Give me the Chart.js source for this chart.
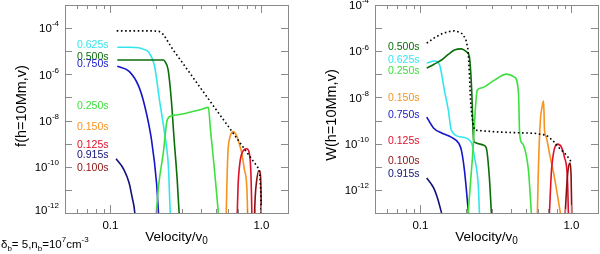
<!DOCTYPE html>
<html>
<head>
<meta charset="utf-8">
<script src="https://cdn.jsdelivr.net/npm/chart.js@4.4.1/dist/chart.umd.min.js"></script>
<style>
  html, body { margin: 0; padding: 0; background: #fff; }
  #wrap { position: relative; width: 600px; height: 254px; }
  #wrap .panel { position: absolute; top: 0; width: 300px; height: 254px; }
</style>
</head>
<body>
<div id="wrap">
  <div class="panel" style="left:0"><canvas id="leftChart" width="300" height="254"></canvas></div>
  <div class="panel" style="left:300px"><canvas id="rightChart" width="300" height="254"></canvas></div>
</div>
<script>
// axis ranges / ticks
const xMin = 0.05, xMax = 1.5;
const xMajorTicks = [0.1, 1.0];
const xTickLabels = ['0.1', '1.0'];
const xMinorTicks = [0.06, 0.07, 0.08, 0.09, 0.2, 0.3, 0.4, 0.5, 0.6, 0.7, 0.8, 0.9];
const yLabelExps = [-4, -6, -8, -10, -12];

// ---- left panel: f(h=10Mm,v), y values given as log10 ----
const vDotL  = [0.11, 0.15, 0.19, 0.21, 0.225, 0.24, 0.26, 0.3, 0.4, 0.5, 0.6, 0.7, 0.8, 0.9, 0.97, 0.99, 1.0];
const fDotL  = [-4.12, -4.12, -4.12, -4.14, -4.28, -4.58, -4.94, -5.5, -6.64, -7.52, -8.23, -8.84, -9.37, -9.83, -10.13, -11.0, -12.5];
const v625L  = [0.111, 0.135, 0.154, 0.168, 0.179, 0.196, 0.211, 0.228, 0.242, 0.249, 0.255];
const f625L  = [-4.83, -4.83, -4.85, -4.93, -5.04, -5.65, -7.09, -8.52, -10.0, -12.0, -13];
const v500L  = [0.111, 0.15, 0.2, 0.224, 0.23, 0.241, 0.253, 0.264, 0.277, 0.285, 0.29];
const f500L  = [-5.38, -5.38, -5.38, -5.38, -5.45, -5.8, -7.1, -8.8, -10.6, -12.0, -13];
const v750L  = [0.111, 0.133, 0.154, 0.169, 0.187, 0.202, 0.208, 0.212];
const f750L  = [-5.65, -5.87, -6.52, -7.39, -8.83, -10.7, -12.0, -13];
const v250L  = [0.196, 0.208, 0.224, 0.238, 0.253, 0.3, 0.35, 0.4, 0.445, 0.46, 0.48, 0.5, 0.518, 0.53];
const f250L  = [-13, -10.87, -9.39, -7.96, -7.8, -7.72, -7.61, -7.52, -7.43, -8.4, -9.6, -10.85, -12.0, -13];
const v150L  = [0.58, 0.585, 0.59, 0.6, 0.62, 0.65, 0.69, 0.72, 0.74, 0.77, 0.8, 0.81, 0.815];
const f150L  = [-13, -12.0, -10.9, -9.4, -8.7, -8.48, -8.7, -9.1, -9.39, -10.1, -10.87, -12.0, -13];
const v125L  = [0.685, 0.70, 0.72, 0.75, 0.80, 0.83, 0.85, 0.86, 0.87];
const f125L  = [-13, -10.87, -9.83, -9.35, -9.22, -9.39, -10.13, -11.3, -13];
const v100L  = [0.89, 0.91, 0.93, 0.96, 0.98, 0.995, 1.0];
const f100L  = [-13, -11.3, -10.6, -10.17, -10.25, -11.3, -13];
const v915L  = [0.109, 0.123, 0.133, 0.139, 0.145, 0.148];
const f915L  = [-9.65, -10.13, -10.7, -11.3, -12.0, -13];

// ---- right panel: W(h=10Mm,v), log10 ----
const vDotR  = [0.11, 0.125, 0.14, 0.155, 0.168, 0.18, 0.19, 0.2, 0.207, 0.211, 0.215, 0.22, 0.228, 0.26, 0.34, 0.45, 0.57, 0.68, 0.75, 0.82, 0.93, 1.0];
const wDotR  = [-5.65, -5.4, -5.23, -5.15, -5.12, -5.17, -5.25, -5.5, -5.95, -7.0, -8.2, -8.9, -9.41, -9.45, -9.5, -9.53, -9.55, -9.63, -9.85, -10.15, -10.5, -10.8];
const v500R  = [0.11, 0.124, 0.138, 0.152, 0.168, 0.187, 0.202, 0.211, 0.218, 0.225, 0.228, 0.261, 0.273, 0.286, 0.295];
const w500R  = [-6.73, -6.55, -6.38, -6.15, -5.95, -5.90, -6.03, -6.25, -7.55, -9.84, -9.93, -10.06, -10.19, -11.45, -13];
const v625R  = [0.11, 0.124, 0.134, 0.144, 0.153, 0.16, 0.187, 0.218, 0.228, 0.242, 0.246, 0.25];
const w625R  = [-6.51, -6.42, -6.60, -7.68, -8.55, -9.41, -9.71, -9.97, -10.58, -11.88, -13, -13.5];
const v250R  = [0.207, 0.221, 0.238, 0.253, 0.309, 0.371, 0.42, 0.446, 0.453, 0.46, 0.481, 0.519, 0.543];
const w250R  = [-13, -10.6, -7.68, -7.59, -7.25, -6.99, -7.12, -7.81, -9.41, -9.84, -10.06, -11.14, -13];
const v150R  = [0.595, 0.604, 0.623, 0.64, 0.653, 0.658, 0.663, 0.68, 0.715, 0.771, 0.845];
const w150R  = [-13, -11.14, -8.98, -8.4, -8.16, -8.6, -9.4, -9.7, -10.41, -11.45, -13];
const v750R  = [0.11, 0.122, 0.138, 0.16, 0.18, 0.187, 0.196, 0.208];
const w750R  = [-8.85, -9.32, -9.54, -9.72, -10.0, -10.3, -11.2, -13];
const v125R  = [0.715, 0.738, 0.761, 0.78, 0.807, 0.859, 0.899, 0.942, 0.955];
const w125R  = [-13, -11.14, -10.41, -10.12, -10.02, -10.15, -10.58, -11.58, -13];
const v100R  = [0.91, 0.94, 0.96, 0.98, 0.995, 1.005];
const w100R  = [-13, -11.45, -10.95, -10.84, -11.4, -13];
const v915R  = [0.11, 0.118, 0.124, 0.131, 0.138];
const w915R  = [-11.49, -11.75, -12.0, -12.45, -13];

const col = {
  t625: '#33e6ee', t500: '#0a6e0a', t750: '#1616c8', t250: '#3ee03e',
  t150: '#f7931e', t125: '#e0102a', t915: '#12127a', t100: '#8b1010'
};

function pts(v, lg) {
  return v.map((vv, i) => ({ x: vv, y: Math.pow(10, lg[i]) }));
}
function line(v, lg, color) {
  return { data: pts(v, lg), borderColor: color, borderWidth: 1.6, cubicInterpolationMode: 'monotone' };
}
function dotted(v, lg) {
  return { data: pts(v, lg), borderColor: '#000', borderWidth: 1.6, borderDash: [1.6, 2.6], tension: 0 };
}

// draws text pieces with sub/superscripts, returns width
function rich(ctx, parts, x, y, size, align, draw) {
  let w = 0;
  parts.forEach(p => {
    ctx.font = (p[1] === 'n' ? size : Math.round(size * 0.72)) + 'px "Liberation Sans", Arial, sans-serif';
    w += ctx.measureText(p[0]).width;
  });
  if (draw === false) return w;
  let cx = align === 'right' ? x - w : (align === 'center' ? x - w / 2 : x);
  ctx.textAlign = 'left';
  ctx.textBaseline = 'middle';
  parts.forEach(p => {
    const small = p[1] !== 'n';
    ctx.font = (small ? Math.round(size * 0.72) : size) + 'px "Liberation Sans", Arial, sans-serif';
    let dy = 0;
    if (p[1] === 'sup') dy = -size * 0.42;
    if (p[1] === 'sub') dy = size * 0.3;
    ctx.fillText(p[0], cx, y + dy);
    cx += ctx.measureText(p[0]).width;
  });
  return w;
}

const framePlugin = {
  id: 'frame',
  afterDatasetsDraw(chart, args, opts) {
    const { ctx, chartArea: a } = chart;
    const xs = chart.scales.x, ys = chart.scales.y;
    ctx.save();
    ctx.strokeStyle = '#8a8a8a';
    ctx.lineWidth = 1;
    ctx.strokeRect(Math.round(a.left) + 0.5, Math.round(a.top) + 0.5, Math.round(a.right - a.left), Math.round(a.bottom - a.top));
    ctx.beginPath();
    xMinorTicks.forEach(v => {
      const px = Math.round(xs.getPixelForValue(v)) + 0.5;
      ctx.moveTo(px, a.bottom); ctx.lineTo(px, a.bottom - 4);
      ctx.moveTo(px, a.top); ctx.lineTo(px, a.top + 4);
    });
    xMajorTicks.forEach(v => {
      const px = Math.round(xs.getPixelForValue(v)) + 0.5;
      ctx.moveTo(px, a.bottom); ctx.lineTo(px, a.bottom - 8);
      ctx.moveTo(px, a.top); ctx.lineTo(px, a.top + 8);
    });
    for (let e = opts.yLo; e <= opts.yHi; e++) {
      const py = Math.round(ys.getPixelForValue(Math.pow(10, e))) + 0.5;
      ctx.moveTo(a.left, py); ctx.lineTo(a.left + 7, py);
      ctx.moveTo(a.right, py); ctx.lineTo(a.right - 7, py);
    }
    ctx.stroke();

    ctx.fillStyle = '#000';
    // x tick labels
    xMajorTicks.forEach((v, i) => {
      rich(ctx, [[xTickLabels[i], 'n']], xs.getPixelForValue(v), a.bottom + 13, 11.5, 'center');
    });
    // y tick labels
    yLabelExps.forEach(e => {
      let py = ys.getPixelForValue(Math.pow(10, e));
      if (py > a.bottom - 3) py = a.bottom - 3;
      rich(ctx, [['10', 'n'], [String(e).replace('-', '-'), 'sup']], a.left - 6, py + 1, 11.5, 'right');
    });
    // axis titles
    rich(ctx, [['Velocity/v', 'n'], ['0', 'sub']], (a.left + a.right) / 2, a.bottom + 24, 13.5, 'center');
    ctx.save();
    ctx.translate(opts.yTitleX, opts.yTitleY);
    ctx.rotate(-Math.PI / 2);
    rich(ctx, [[opts.yTitle, 'n']], 0, 0, 14.5, 'center');
    ctx.restore();
    // in-plot labels
    opts.labels.forEach(l => {
      ctx.fillStyle = l[1];
      rich(ctx, [[l[0], 'n']], opts.labelX, l[2], 10.5, 'left');
    });
    if (opts.note) {
      ctx.fillStyle = '#000';
      rich(ctx, [['\u03b4', 'n'], ['b', 'sub'], ['= 5,n', 'n'], ['b', 'sub'], ['=10', 'n'], ['7', 'sup'], ['cm', 'n'], ['-3', 'sup']], 1, 245, 11.5, 'left');
    }
    ctx.restore();
  }
};

function makeChart(id, datasets, yMin, yMax, pad, frameOpts) {
  return new Chart(document.getElementById(id), {
    type: 'line',
    data: { datasets: datasets },
    options: {
      responsive: false,
      animation: false,
      layout: { padding: pad },
      elements: { point: { radius: 0 } },
      scales: {
        x: { type: 'logarithmic', min: xMin, max: xMax, display: false },
        y: { type: 'logarithmic', min: yMin, max: yMax, display: false }
      },
      plugins: { legend: { display: false }, tooltip: { enabled: false }, frame: frameOpts }
    },
    plugins: [framePlugin]
  });
}

makeChart('leftChart', [
  dotted(vDotL, fDotL),
  line(v100L, f100L, col.t100),
  line(v125L, f125L, col.t125),
  line(v150L, f150L, col.t150),
  line(v250L, f250L, col.t250),
  line(v500L, f500L, col.t500),
  line(v625L, f625L, col.t625),
  line(v750L, f750L, col.t750),
  line(v915L, f915L, col.t915)
], 1e-12, 1e-3, { left: 65, right: 12, top: 5, bottom: 41 }, {
  yLo: -12, yHi: -3, yTitle: 'f(h=10Mm,v)', yTitleX: 22, yTitleY: 106, labelX: 77, note: true,
  labels: [
    ['0.625s', col.t625, 45], ['0.500s', col.t500, 57], ['0.750s', col.t750, 64],
    ['0.250s', col.t250, 106], ['0.150s', col.t150, 127], ['0.125s', col.t125, 145],
    ['0.915s', col.t915, 155], ['0.100s', col.t100, 168]
  ]
});

makeChart('rightChart', [
  dotted(vDotR, wDotR),
  line(v100R, w100R, col.t100),
  line(v125R, w125R, col.t125),
  line(v150R, w150R, col.t150),
  line(v250R, w250R, col.t250),
  line(v500R, w500R, col.t500),
  line(v625R, w625R, col.t625),
  line(v750R, w750R, col.t750),
  line(v915R, w915R, col.t915)
], 1e-13, 1e-4, { left: 75, right: 2, top: 5, bottom: 41 }, {
  yLo: -13, yHi: -4, yTitle: 'W(h=10Mm,v)', yTitleX: 32, yTitleY: 115, labelX: 88, note: false,
  labels: [
    ['0.500s', col.t500, 47], ['0.625s', col.t625, 60], ['0.250s', col.t250, 71],
    ['0.150s', col.t150, 98], ['0.750s', col.t750, 115], ['0.125s', col.t125, 141],
    ['0.100s', col.t100, 161], ['0.915s', col.t915, 174]
  ]
});
</script>
</body>
</html>
